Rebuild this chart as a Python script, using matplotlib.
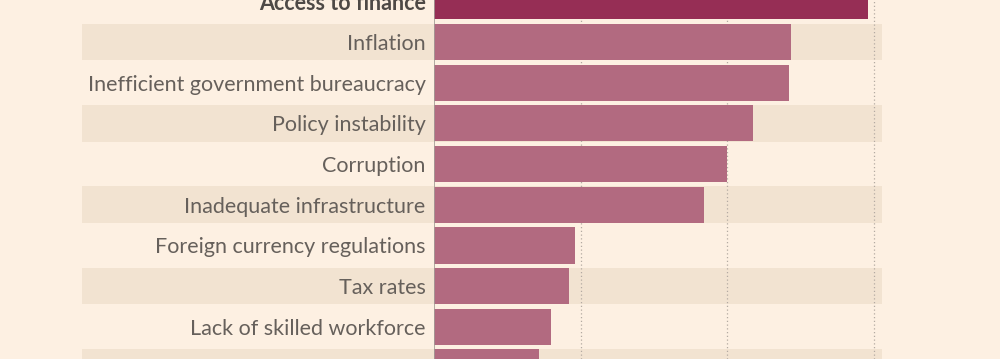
import numpy as np
import matplotlib.pyplot as plt
from matplotlib.transforms import blended_transform_factory

# data: share of respondents citing each factor (%)
factors = [
    "Access to finance",
    "Inflation",
    "Inefficient government bureaucracy",
    "Policy instability",
    "Corruption",
    "Inadequate infrastructure",
    "Foreign currency regulations",
    "Tax rates",
    "Lack of skilled workforce",
    "Crime and theft",
]
shares = [14.8, 12.2, 12.1, 10.9, 10.0, 9.2, 4.8, 4.6, 4.0, 3.6]
grid_ticks = [5, 10, 15]

BG = "#fdf0e2"
BAND = "#f2e3d1"
BAR = "#b26a80"
BAR_HI = "#962e55"
TEXT = "#66605b"

plt.rcParams["font.family"] = ["Lato", "DejaVu Sans"]

fig = plt.figure(figsize=(10, 3.59), dpi=100, facecolor=BG)
ax = fig.add_axes([0.434, 0.0, 0.448, 1.0], facecolor="none")

y = np.arange(len(factors))

# alternating shaded bands reaching into the label area
band_left = (82 - 434) / 448
trans = blended_transform_factory(ax.transAxes, ax.transData)
for i in y:
    if i % 2 == 1:
        ax.add_patch(plt.Rectangle((band_left, i - 0.45), 1 - band_left, 0.9,
                                   transform=trans, facecolor=BAND,
                                   edgecolor="none", clip_on=False, zorder=0))

for gx in grid_ticks:
    ax.axvline(gx, color="#b3aaa2", lw=0.9, ls=(0, (1, 2)), zorder=1)

colors = [BAR_HI] + [BAR] * (len(factors) - 1)
ax.barh(y, shares, height=0.89, color=colors, zorder=2)

ax.axvline(0, color="#a39c96", lw=1.2, zorder=3)

ax.set_yticks(y)
ax.set_yticklabels(factors, fontsize=15.5, color=TEXT)
ax.get_yticklabels()[0].set_fontweight("bold")
ax.get_yticklabels()[0].set_color("#4e4946")
ax.tick_params(axis="y", length=0, pad=6)
ax.set_xticks([])
for s in ax.spines.values():
    s.set_visible(False)

# the view is a crop: top and bottom rows are cut
ax.set_xlim(0, 15.29)
ax.set_ylim(8.79, -0.032)

fig.savefig("out.png", dpi=100, facecolor=BG)
